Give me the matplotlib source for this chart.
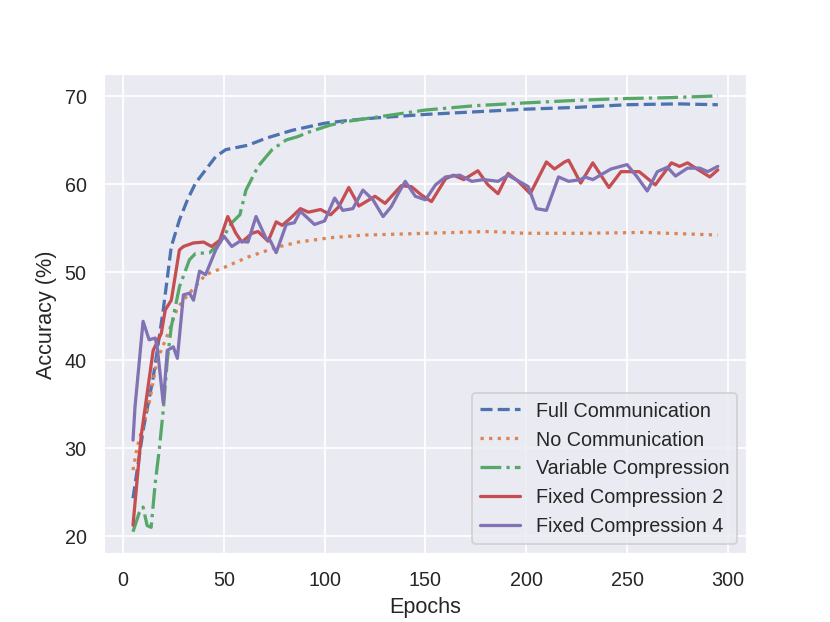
import matplotlib
matplotlib.use("Agg")
import matplotlib.pyplot as plt
import seaborn as sns

sns.set_theme()
plt.rcParams['font.family'] = ['Liberation Sans', 'DejaVu Sans']
plt.rcParams['lines.linewidth'] = 1.8

full_ep = [5, 10, 15, 20, 24, 28, 32, 36, 41, 46, 51, 62, 71, 84, 100, 111, 125, 150, 175, 200, 225, 250, 275, 295]
full_acc = [24.3, 32.0, 38.0, 45.7, 52.9, 55.9, 58.2, 60.1, 61.6, 63.1, 63.9, 64.4, 65.2, 66.1, 66.9, 67.2, 67.5, 67.9, 68.2, 68.5, 68.7, 69.0, 69.1, 69.0]

none_ep = [5, 7, 13, 17, 22, 27, 30, 33, 38, 41, 51, 62, 76, 87, 103, 120, 136, 150, 182, 199, 230, 258, 295]
none_acc = [27.5, 30.0, 35.1, 40.0, 42.8, 45.9, 46.8, 47.6, 48.9, 49.7, 50.6, 51.7, 52.8, 53.4, 53.9, 54.2, 54.3, 54.4, 54.6, 54.4, 54.4, 54.5, 54.2]

var_ep = [5, 8, 10, 12, 14, 16, 18, 20, 22, 24, 28, 33, 36, 43, 48, 54, 58, 61, 67, 74, 81, 87, 91, 103, 111, 120, 150, 175, 199, 225, 248, 270, 295]
var_acc = [20.5, 22.6, 23.3, 21.2, 21.0, 26.0, 29.8, 34.3, 40.0, 43.8, 48.3, 51.4, 52.1, 52.2, 53.3, 55.6, 56.5, 59.3, 62.0, 63.9, 65.0, 65.4, 65.8, 66.7, 67.1, 67.4, 68.4, 68.9, 69.2, 69.5, 69.7, 69.8, 70.0]

fix2_ep = [5, 9, 15, 19, 21, 24, 28, 30, 35, 40, 44, 48, 52, 56, 59, 64, 67, 72, 76, 79, 83, 88, 92, 98, 103, 107, 112, 117, 125, 130, 138, 143, 148, 153, 160, 164, 169, 176, 181, 186, 191, 196, 202, 210, 214, 219, 221, 227, 233, 241, 247, 256, 264, 272, 276, 280, 284, 291, 295]
fix2_acc = [21.25, 31.3, 41.1, 43.0, 45.7, 46.8, 52.5, 52.9, 53.3, 53.4, 52.9, 53.6, 56.3, 54.4, 53.4, 54.4, 54.6, 53.5, 55.7, 55.3, 56.1, 57.2, 56.8, 57.1, 56.5, 57.4, 59.6, 57.5, 58.6, 57.8, 59.8, 59.7, 58.75, 58.0, 60.6, 61.0, 60.5, 61.5, 59.9, 58.9, 61.2, 60.3, 58.9, 62.5, 61.7, 62.5, 62.7, 60.1, 62.4, 59.6, 61.4, 61.4, 59.9, 62.4, 62.0, 62.4, 61.8, 60.8, 61.6]

fix4_ep = [5, 6, 10, 13, 16, 17, 20, 22, 25, 27, 30, 33, 35, 38, 41, 46, 50, 54, 58, 62, 66, 71, 73, 76, 81, 85, 88, 95, 100, 105, 109, 114, 119, 124, 129, 133, 137, 140, 145, 150, 155, 160, 167, 173, 179, 186, 191, 201, 205, 210, 216, 221, 227, 229, 233, 242, 250, 255, 260, 265, 270, 274, 280, 286, 290, 295]
fix4_acc = [30.9, 34.7, 44.4, 42.3, 42.5, 41.5, 35.1, 41.1, 41.5, 40.2, 47.4, 47.6, 46.8, 50.1, 49.7, 52.5, 54.1, 52.9, 53.5, 53.4, 56.3, 53.8, 53.6, 52.2, 55.4, 55.6, 56.9, 55.4, 55.8, 58.4, 57.0, 57.2, 59.3, 58.2, 56.3, 57.4, 59.1, 60.3, 58.6, 58.2, 59.9, 60.8, 61.0, 60.3, 60.5, 60.3, 61.0, 59.7, 57.2, 57.0, 60.8, 60.3, 60.5, 60.8, 60.5, 61.7, 62.2, 60.8, 59.2, 61.4, 61.9, 60.9, 61.8, 61.8, 61.4, 62.0]

labels = ["Full Communication", "No Communication", "Variable Compression",
          "Fixed Compression 2", "Fixed Compression 4"]

fig, ax = plt.subplots(figsize=(6.4, 4.8), dpi=129.7)
pal = sns.color_palette()
ax.plot(full_ep, full_acc, "--", color=pal[0], label=labels[0])
ax.plot(none_ep, none_acc, ":", color=pal[1], label=labels[1])
ax.plot(var_ep, var_acc, "-.", color=pal[2], label=labels[2])
ax.plot(fix2_ep, fix2_acc, "-", color=pal[3], label=labels[3])
ax.plot(fix4_ep, fix4_acc, "-", color=pal[4], label=labels[4])
ax.set_xlabel("Epochs")
ax.set_ylabel("Accuracy (%)")
ax.set_xticks([0, 50, 100, 150, 200, 250, 300])
ax.set_yticks([20, 30, 40, 50, 60, 70])
ax.legend(loc="lower right")
fig.savefig("out.png")
